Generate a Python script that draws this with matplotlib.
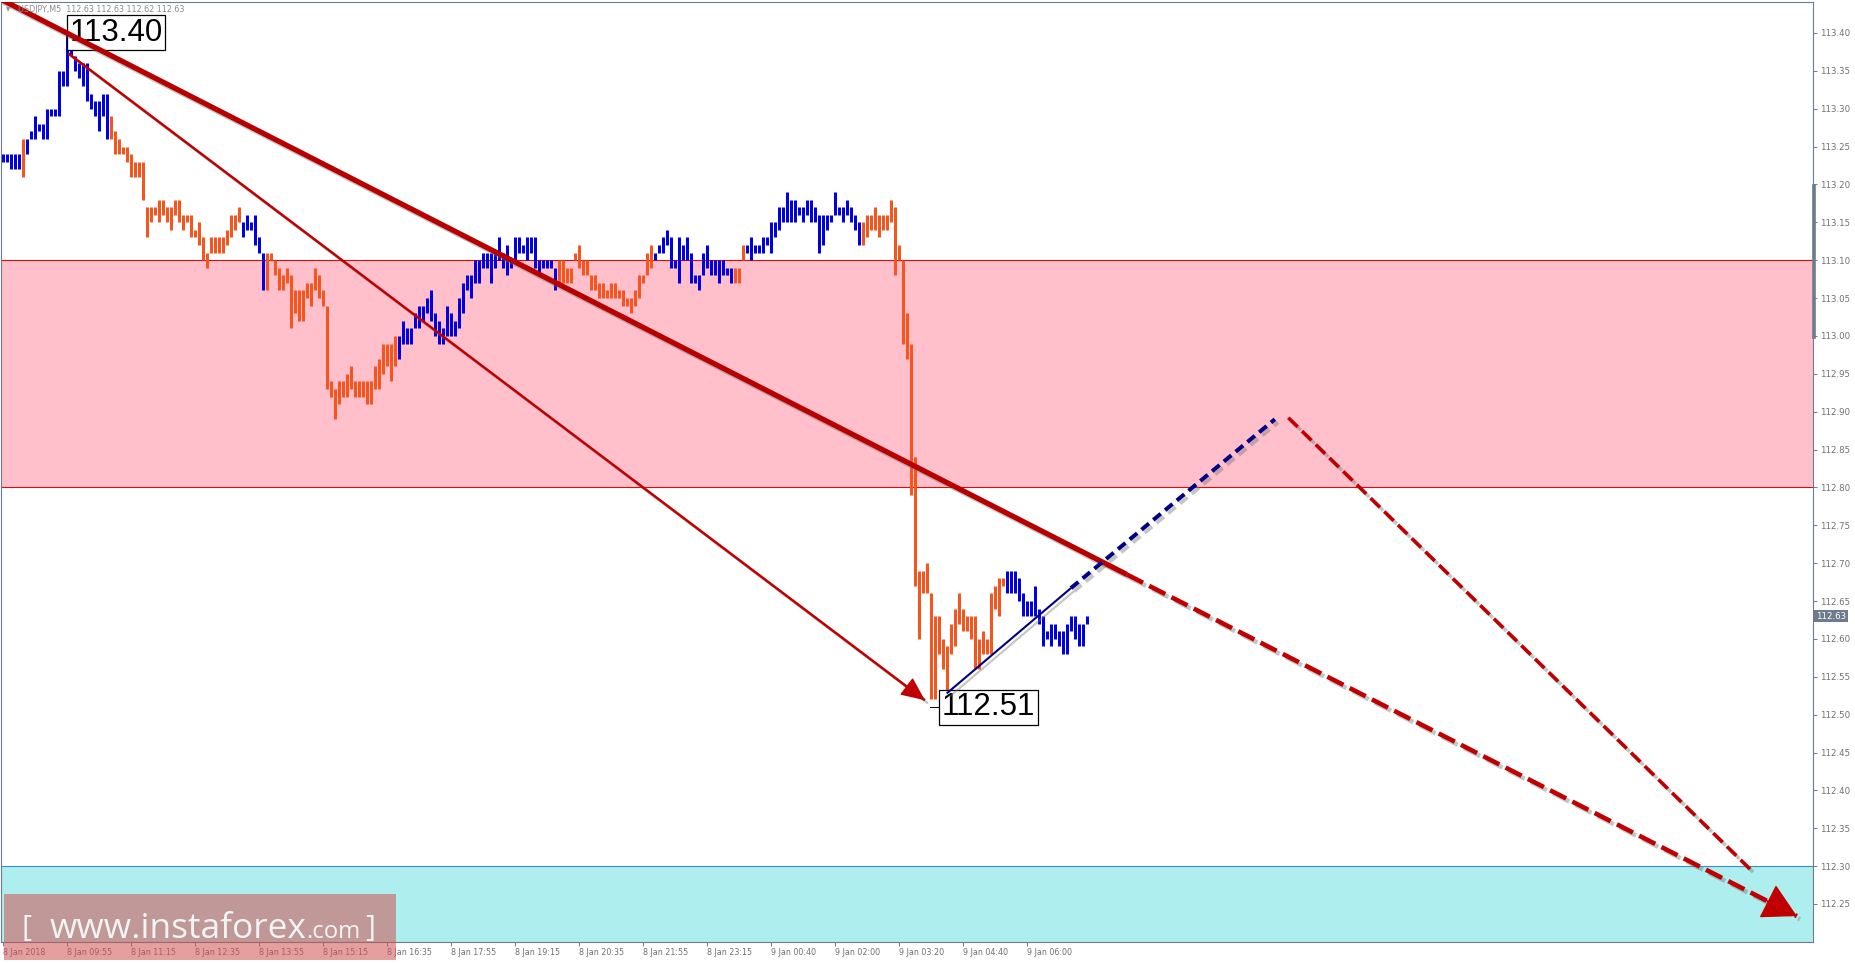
import matplotlib
matplotlib.use("Agg")
import matplotlib.pyplot as plt
import matplotlib.patheffects as pe
from matplotlib.lines import Line2D
from matplotlib.patches import Rectangle

plt.rcParams['lines.scale_dashes'] = False
plt.rcParams['font.family'] = ['DejaVu Sans']

W, H, DPI = 1855, 963, 100

# ---------------- data ----------------
title_text = "USDJPY,M5  112.63 112.63 112.62 112.63"
last_price = 112.63
peak_label, peak_price, peak_bar = "113.40", 113.40, 16
low_label, low_price, low_bar = "112.51", 112.51, 236

highs = [
    113.24, 113.24, 113.24, 113.24, 113.24, 113.26, 113.26, 113.27, 113.29, 113.28,
    113.28, 113.30, 113.30, 113.30, 113.35, 113.35, 113.40, 113.39, 113.37, 113.36,
    113.36, 113.36, 113.32, 113.31, 113.31, 113.32, 113.32, 113.29, 113.27, 113.26,
    113.25, 113.25, 113.24, 113.23, 113.23, 113.23, 113.17, 113.17, 113.17, 113.18,
    113.18, 113.17, 113.17, 113.18, 113.18, 113.16, 113.16, 113.16, 113.14, 113.15,
    113.13, 113.11, 113.13, 113.13, 113.13, 113.13, 113.14, 113.16, 113.16, 113.17,
    113.15, 113.16, 113.15, 113.16, 113.13, 113.11, 113.11, 113.11, 113.10, 113.09,
    113.08, 113.09, 113.08, 113.06, 113.06, 113.06, 113.07, 113.07, 113.09, 113.08,
    113.06, 113.04, 112.94, 112.93, 112.94, 112.94, 112.95, 112.96, 112.94, 112.94,
    112.94, 112.94, 112.94, 112.96, 112.97, 112.99, 112.99, 112.99, 113.00, 113.00,
    113.02, 113.01, 113.01, 113.03, 113.04, 113.04, 113.05, 113.06, 113.03, 113.02,
    113.01, 113.04, 113.03, 113.02, 113.05, 113.07, 113.08, 113.08, 113.10, 113.10,
    113.11, 113.11, 113.11, 113.11, 113.13, 113.11, 113.12, 113.10, 113.13, 113.13,
    113.12, 113.13, 113.13, 113.13, 113.10, 113.10, 113.10, 113.10, 113.09, 113.10,
    113.10, 113.09, 113.09, 113.11, 113.12, 113.10, 113.10, 113.08, 113.08, 113.07,
    113.07, 113.06, 113.07, 113.07, 113.06, 113.06, 113.05, 113.05, 113.06, 113.08,
    113.08, 113.11, 113.12, 113.11, 113.12, 113.13, 113.14, 113.13, 113.10, 113.13,
    113.12, 113.13, 113.11, 113.08, 113.08, 113.11, 113.12, 113.10, 113.10, 113.10,
    113.10, 113.09, 113.09, 113.09, 113.09, 113.12, 113.12, 113.13, 113.12, 113.12,
    113.13, 113.13, 113.15, 113.15, 113.17, 113.17, 113.19, 113.18, 113.18, 113.17,
    113.17, 113.18, 113.18, 113.17, 113.16, 113.16, 113.16, 113.16, 113.19, 113.17,
    113.17, 113.18, 113.17, 113.16, 113.15, 113.15, 113.16, 113.16, 113.17, 113.16,
    113.16, 113.16, 113.18, 113.17, 113.12, 113.10, 113.03, 112.99, 112.84, 112.69,
    112.69, 112.70, 112.66, 112.63, 112.63, 112.60, 112.59, 112.62, 112.64, 112.66,
    112.64, 112.63, 112.63, 112.63, 112.60, 112.61, 112.60, 112.66, 112.67, 112.68,
    112.68, 112.69, 112.69, 112.69, 112.68, 112.66, 112.65, 112.65, 112.67, 112.64,
    112.63, 112.61, 112.62, 112.62, 112.61, 112.61, 112.62, 112.63, 112.63, 112.62,
    112.62, 112.63,
]
lows = [
    113.23, 113.23, 113.22, 113.22, 113.22, 113.21, 113.24, 113.26, 113.26, 113.27,
    113.26, 113.26, 113.29, 113.29, 113.29, 113.33, 113.33, 113.37, 113.35, 113.34,
    113.33, 113.31, 113.30, 113.29, 113.27, 113.29, 113.26, 113.26, 113.24, 113.24,
    113.24, 113.23, 113.21, 113.21, 113.21, 113.18, 113.13, 113.15, 113.16, 113.15,
    113.16, 113.15, 113.14, 113.16, 113.15, 113.14, 113.15, 113.13, 113.13, 113.12,
    113.10, 113.09, 113.11, 113.11, 113.11, 113.11, 113.12, 113.13, 113.14, 113.15,
    113.13, 113.14, 113.14, 113.12, 113.11, 113.06, 113.06, 113.10, 113.08, 113.06,
    113.06, 113.07, 113.01, 113.03, 113.02, 113.02, 113.05, 113.04, 113.06, 113.05,
    113.04, 112.93, 112.92, 112.89, 112.91, 112.92, 112.92, 112.93, 112.92, 112.92,
    112.92, 112.91, 112.91, 112.93, 112.93, 112.95, 112.96, 112.94, 112.96, 112.97,
    112.99, 112.99, 112.99, 113.01, 113.01, 113.02, 113.03, 113.02, 113.00, 112.99,
    112.99, 113.00, 113.00, 113.00, 113.01, 113.03, 113.06, 113.05, 113.07, 113.07,
    113.09, 113.09, 113.07, 113.09, 113.10, 113.09, 113.08, 113.09, 113.10, 113.11,
    113.11, 113.10, 113.11, 113.09, 113.08, 113.09, 113.09, 113.09, 113.06, 113.07,
    113.07, 113.07, 113.07, 113.10, 113.09, 113.08, 113.08, 113.06, 113.06, 113.05,
    113.05, 113.05, 113.05, 113.05, 113.05, 113.04, 113.04, 113.03, 113.04, 113.05,
    113.07, 113.08, 113.09, 113.10, 113.11, 113.11, 113.12, 113.09, 113.09, 113.07,
    113.10, 113.10, 113.07, 113.07, 113.06, 113.08, 113.09, 113.08, 113.08, 113.07,
    113.08, 113.08, 113.07, 113.07, 113.07, 113.10, 113.11, 113.10, 113.11, 113.11,
    113.11, 113.12, 113.11, 113.13, 113.14, 113.15, 113.15, 113.15, 113.15, 113.16,
    113.15, 113.16, 113.15, 113.15, 113.11, 113.12, 113.14, 113.15, 113.16, 113.16,
    113.15, 113.16, 113.15, 113.14, 113.12, 113.12, 113.13, 113.14, 113.14, 113.13,
    113.14, 113.14, 113.15, 113.08, 113.10, 112.99, 112.97, 112.79, 112.67, 112.60,
    112.66, 112.66, 112.52, 112.52, 112.58, 112.56, 112.51, 112.58, 112.59, 112.62,
    112.61, 112.61, 112.60, 112.56, 112.56, 112.58, 112.58, 112.58, 112.64, 112.63,
    112.67, 112.66, 112.66, 112.66, 112.65, 112.63, 112.63, 112.63, 112.63, 112.62,
    112.59, 112.60, 112.59, 112.60, 112.59, 112.58, 112.58, 112.61, 112.60, 112.59,
    112.59, 112.62,
]

# wave colouring of the bars: (first bar, last bar, direction)
wave_runs = [
    (0, 4, "up"), (5, 5, "down"), (6, 26, "up"), (27, 59, "down"),
    (60, 65, "up"), (66, 98, "down"), (99, 138, "up"), (139, 162, "down"),
    (163, 182, "up"), (183, 185, "down"), (186, 214, "up"), (215, 250, "down"),
    (251, 271, "up"),
]

x_tick_bars = [0, 16, 32, 48, 64, 80, 96, 112, 128, 144, 160, 176, 192, 208, 224, 240, 256]
x_tick_labels = ["8 Jan 2018", "8 Jan 09:55", "8 Jan 11:15", "8 Jan 12:35", "8 Jan 13:55",
                 "8 Jan 15:15", "8 Jan 16:35", "8 Jan 17:55", "8 Jan 19:15", "8 Jan 20:35",
                 "8 Jan 21:55", "8 Jan 23:15", "9 Jan 00:40", "9 Jan 02:00", "9 Jan 03:20",
                 "9 Jan 04:40", "9 Jan 06:00"]
y_tick_values = [112.25, 112.30, 112.35, 112.40, 112.45, 112.50, 112.55, 112.60,
                 112.65, 112.70, 112.75, 112.80, 112.85, 112.90, 112.95, 113.00,
                 113.05, 113.10, 113.15, 113.20, 113.25, 113.30, 113.35, 113.40]

resistance_zone = (112.80, 113.10)
target_zone_top = 112.30

# analysis lines: (bar, price) anchor points
main_trend_start = (-0.8, 113.445)
main_trend_solid_end = (280.9, 112.685)
main_trend_tip = (448.4, 112.234)
impulse_start = (16.25, 113.373)
impulse_tip = (230.4, 112.519)
corr_start = (235.85, 112.528)
corr_solid_end = (266.9, 112.667)
corr_dash_end = (317.9, 112.890)
forecast_start = (321.25, 112.892)
forecast_end = (436.7, 112.296)

# ---------------- styling ----------------
UP = "#0000E6"
DOWN = "#F8541C"
AXC = "#6D7B8D"
TXT = "#707070"
RED = "#B80000"
NAVY = "#000080"

fig = plt.figure(figsize=(W / DPI, H / DPI), dpi=DPI)
fig.patch.set_facecolor("white")
ax = fig.add_axes([1 / W, 1 - 942 / H, (1813 - 1) / W, (942 - 2) / H])
ax.set_xlim(-0.575, 452.425)
ax.set_ylim(112.1998, 113.4409)
ax.set_facecolor("white")

# zones
ax.axhspan(resistance_zone[0], resistance_zone[1], fc="#FFC0CB", ec="none", zorder=0)
ax.axhline(resistance_zone[0], color="#D01010", lw=0.8, zorder=0.5)
ax.axhline(resistance_zone[1], color="#D01010", lw=0.8, zorder=0.5)
ax.axhspan(112.0, target_zone_top, fc="#AFEEEE", ec="none", zorder=0)
ax.axhline(target_zone_top, color="#3C8CC8", lw=0.8, zorder=0.5)

# bars
colors = [None] * len(highs)
for a, b, d in wave_runs:
    for i in range(a, b + 1):
        colors[i] = UP if d == "up" else DOWN
xs = list(range(len(highs)))
ax.vlines(xs, lows, highs, colors=colors, linewidth=2.16, zorder=2)

shadow = [pe.SimpleLineShadow(offset=(2.2, -2.2), shadow_color="#707070", alpha=0.4), pe.Normal()]

def seg(p0, p1, **kw):
    ax.plot([p0[0], p1[0]], [p0[1], p1[1]], solid_capstyle="butt", dash_capstyle="butt",
            path_effects=shadow, **kw)

def head(p_from, p_to, frac, lw, color, ms, hl, hw):
    bx = p_to[0] - frac * (p_to[0] - p_from[0])
    by = p_to[1] - frac * (p_to[1] - p_from[1])
    ax.annotate("", xy=p_to, xytext=(bx, by),
                arrowprops=dict(arrowstyle="-|>,head_length=%g,head_width=%g" % (hl, hw),
                                color=color, lw=lw, shrinkA=0, shrinkB=0,
                                mutation_scale=ms),
                zorder=5)

# labels for extremes (under the lines)
ax.text(peak_bar + 0.5, peak_price, peak_label, ha="left", va="center",
        fontsize=22.5, family="Liberation Sans", color="black", zorder=3.5,
        bbox=dict(boxstyle="square,pad=0.08", fc="white", ec="black", lw=0.9))
ax.text(low_bar - 1.4, low_price, low_label, ha="left", va="center",
        fontsize=22.5, family="Liberation Sans", color="black", zorder=3.5,
        bbox=dict(boxstyle="square,pad=0.08", fc="white", ec="black", lw=0.9))
ax.plot([low_bar - 4.3, low_bar - 1.5], [low_price, low_price], color="black", lw=0.7, zorder=3.4)

# main trend line (solid then dashed with arrow)
seg(main_trend_start, main_trend_solid_end, color=RED, lw=3.8, zorder=4)
seg(main_trend_solid_end, main_trend_tip, color="#C00000", lw=3.3, zorder=4,
    linestyle=(0, (13, 5)))
head(main_trend_solid_end, main_trend_tip, 0.05, 1.0, "#C00000", 22, 1.0, 0.55)

# impulse arrow
seg(impulse_start, impulse_tip, color="#C00000", lw=1.8, zorder=4)
head(impulse_start, impulse_tip, 0.04, 1.0, "#C00000", 15, 1.0, 0.45)

# correction line
seg(corr_start, corr_solid_end, color=NAVY, lw=1.5, zorder=4.2)
seg(corr_solid_end, corr_dash_end, color=NAVY, lw=2.9, zorder=4.2, linestyle=(0, (7, 4)))

# forecast leg
seg(forecast_start, forecast_end, color="#C00000", lw=2.6, zorder=4, linestyle=(0, (9.5, 4.3)))

# axes styling
for s in ax.spines.values():
    s.set_color(AXC)
    s.set_linewidth(0.8)
ax.yaxis.tick_right()
ax.set_yticks(y_tick_values)
ax.set_yticklabels(["%.2f" % v for v in y_tick_values])
ax.tick_params(axis="y", direction="out", length=3, width=0.7, color=AXC,
               labelsize=6.2, labelcolor=TXT, pad=2)
ax.set_xticks(x_tick_bars)
ax.set_xticklabels(x_tick_labels)
ax.tick_params(axis="x", direction="out", length=3, width=0.7, color=AXC,
               labelsize=5.8, labelcolor=TXT, pad=1.5)
for lab in ax.get_xticklabels():
    lab.set_ha("left")

# current price tag
ax.annotate("%.2f" % last_price, xy=(1.0, last_price), xycoords=("axes fraction", "data"),
            xytext=(2.0, 0), textcoords="offset points", ha="left", va="center",
            fontsize=6.2, color="white", zorder=6, annotation_clip=False,
            bbox=dict(boxstyle="square,pad=0.2", fc=AXC, ec="none"))

# scroll marker on the price axis
fig.add_artist(Line2D([1813.5 / W, 1813.5 / W], [1 - 186 / H, 1 - 337 / H],
                      color=AXC, lw=2.6, transform=fig.transFigure))

# symbol header
fig.text(6 / W, 1 - 10 / H, "\u25BC", fontsize=4, color="#909090", va="center", ha="left")
fig.text(18 / W, 1 - 10 / H, title_text, fontsize=5.8, color="#8A8A8A", va="center", ha="left")

# watermark
fig.add_artist(Rectangle((4 / W, 1 - 960 / H), 392 / W, 66 / H, transform=fig.transFigure,
                         fc="#D04F4F", ec="none", alpha=0.54, zorder=10))
fig.canvas.draw()
r = fig.canvas.get_renderer()

def fitted(txt, x_px, base_px, width_px, fam="Open Sans"):
    t = fig.text(x_px / W, 1 - base_px / H, txt, fontsize=20, family=fam, color="#F2F4F4",
                 ha="left", va="baseline", zorder=11)
    w = t.get_window_extent(r).width
    t.set_fontsize(20 * width_px / w)
    return t

fitted("[", 22, 936, 10)
fitted("www.instaforex", 50, 938, 256)
fitted(".com", 306, 938, 54)
fitted("]", 365, 936, 10)

fig.savefig("out.png", dpi=DPI)
